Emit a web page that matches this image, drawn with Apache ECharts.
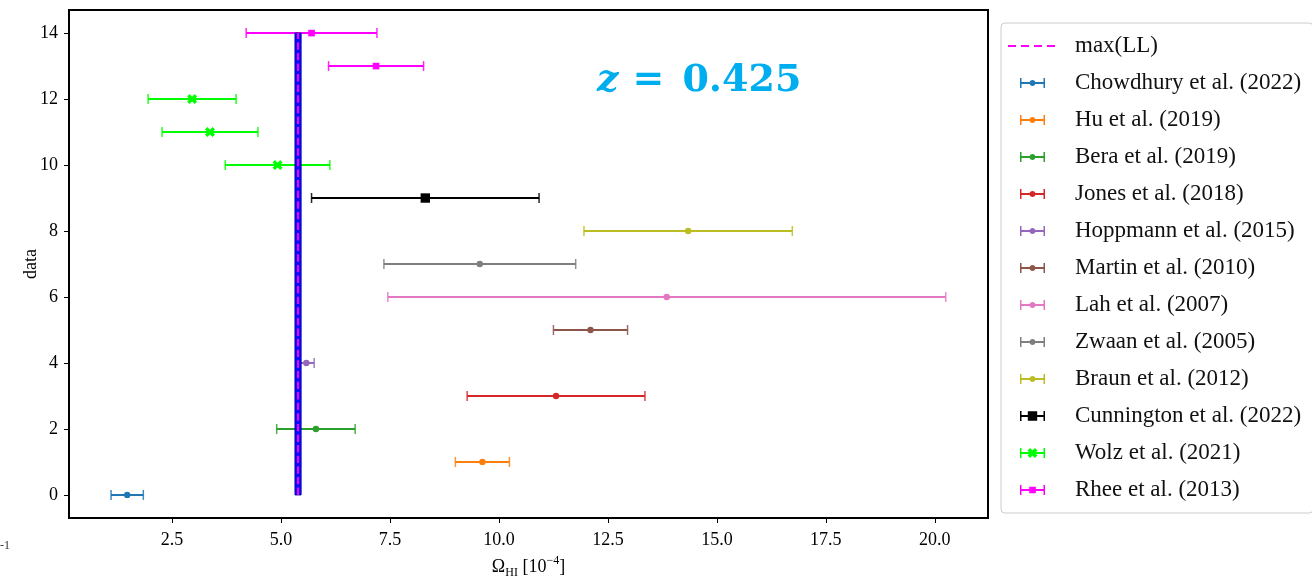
<!DOCTYPE html>
<html><head><meta charset="utf-8">
<script src="https://cdn.jsdelivr.net/npm/echarts@6/dist/echarts.min.js"></script>
<style>html,body{margin:0;padding:0;background:#fff}#c{width:1312px;height:576px}</style>
</head><body><div id="c"></div>
<script>
// ---------------- data ----------------
const studies = ['Chowdhury et al. (2022)','Hu et al. (2019)','Bera et al. (2019)','Jones et al. (2018)',
  'Hoppmann et al. (2015)','Martin et al. (2010)','Lah et al. (2007)','Zwaan et al. (2005)',
  'Braun et al. (2012)','Cunnington et al. (2022)','Wolz et al. (2021)','Rhee et al. (2013)'];
const studyColors = ['#1f77b4','#ff7f0e','#2ca02c','#d62728','#9467bd','#8c564b','#e377c2','#7f7f7f',
  '#bcbd22','#000000','#00ff00','#ff00ff'];
const studyMarkers = ['circle','circle','circle','circle','circle','circle','circle','circle',
  'circle','bigSquare','X','square'];
const yValues = [[0],[1],[2],[3],[4],[5],[6],[7],[8],[9],[10,11,12],[13,14]];
const centerValues = [[1.47],[9.62],[5.80],[11.31],[5.58],[12.10],[13.85],[9.56],[14.34],[8.31],[4.92,3.37,2.96],[7.18,5.70]];
const errorValues = [[0.37],[0.62],[0.90],[2.04],[0.18],[0.85],[6.40],[2.20],[2.39],[2.61],[1.20,1.10,1.01],[1.09,1.50]];
const maxLL = 5.39;
const bandX = [5.32, 5.46];
const bandY = [0, 14];
const xTicks = [2.5, 5, 7.5, 10, 12.5, 15, 17.5, 20];
const yTicks = [0, 2, 4, 6, 8, 10, 12, 14];
const xRange = [0.135, 21.22];
const yRange = [-0.7, 14.7];

// ---------------- drawing ----------------
const chart = echarts.init(document.getElementById('c'), null, {renderer: 'canvas'});
const serif = 'Liberation Serif';

function markerShape(kind, cx, cy, color) {
  if (kind === 'bigSquare') return {type:'rect', shape:{x:cx-4.7,y:cy-4.7,width:9.4,height:9.4}, style:{fill:color}};
  if (kind === 'square') return {type:'rect', shape:{x:cx-3.3,y:cy-3.3,width:6.6,height:6.6}, style:{fill:color}};
  if (kind === 'X') {
    const s = 5, t = 2.4;
    const pts = [[-s,-s+t],[-s+t,-s],[0,-t],[s-t,-s],[s,-s+t],[t,0],[s,s-t],[s-t,s],[0,t],[-s+t,s],[-s,s-t],[-t,0]]
      .map(p => [cx + p[0], cy + p[1]]);
    return {type:'polygon', shape:{points:pts}, style:{fill:color}};
  }
  return {type:'circle', shape:{cx:cx, cy:cy, r:3.2}, style:{fill:color}};
}

function errRender(kind, color) {
  return function (params, api) {
    const x = api.value(0), y = api.value(1), e = api.value(2);
    const p0 = api.coord([x - e, y]), p1 = api.coord([x + e, y]), pc = api.coord([x, y]);
    return {type:'group', children:[
      {type:'line', shape:{x1:p0[0],y1:p0[1],x2:p1[0],y2:p1[1]}, style:{stroke:color,lineWidth:2}},
      {type:'line', shape:{x1:p0[0],y1:p0[1]-5,x2:p0[0],y2:p0[1]+5}, style:{stroke:color,lineWidth:1.5,opacity:0.85}},
      {type:'line', shape:{x1:p1[0],y1:p1[1]-5,x2:p1[0],y2:p1[1]+5}, style:{stroke:color,lineWidth:1.5,opacity:0.85}},
      markerShape(kind, pc[0], pc[1], color)
    ]};
  };
}

// legend icons (62 x 12 box)
const box = 'M0,0 M62,12 ';
const barIcon = 'M12,1 L13.5,1 L13.5,11 L12,11 Z M35.5,1 L37,1 L37,11 L35.5,11 Z M12,5 L37,5 L37,7 L12,7 Z ';
const dotIcon = 'M21.5,6 C21.5,2 27.5,2 27.5,6 C27.5,10 21.5,10 21.5,6 Z';
const sqIcon = 'M21.2,2.7 L27.8,2.7 L27.8,9.3 L21.2,9.3 Z';
const bigSqIcon = 'M19.8,1.3 L29.2,1.3 L29.2,10.7 L19.8,10.7 Z';
const xIcon = 'M19.5,3.4 L22.1,1 L24.5,3.6 L26.9,1 L29.5,3.4 L26.9,6 L29.5,8.6 L26.9,11 L24.5,8.4 L22.1,11 L19.5,8.6 L22.1,6 Z';
const dashIcon = 'path://' + box + 'M0,5 L8,5 L8,7 L0,7 Z M13,5 L21,5 L21,7 L13,7 Z M26,5 L34,5 L34,7 L26,7 Z M39,5 L47,5 L47,7 L39,7 Z';
function iconFor(kind) {
  const m = kind === 'bigSquare' ? bigSqIcon : kind === 'square' ? sqIcon : kind === 'X' ? xIcon : dotIcon;
  return 'path://' + box + barIcon + m;
}

const series = [];
series.push({
  type:'custom', name:'band', z:3, silent:true,
  data:[[bandX[0], bandX[1], bandY[0], bandY[1]]],
  renderItem: function (params, api) {
    const a = api.coord([api.value(0), api.value(3)]);
    const b = api.coord([api.value(1), api.value(2)]);
    return {type:'rect', shape:{x:a[0], y:a[1], width:b[0]-a[0], height:b[1]-a[1]},
      style:{fill:'#0b0bff', stroke:'#0000a8', lineWidth:1}};
  }
});
series.push({
  type:'custom', name:'max(LL)', z:4, silent:true,
  itemStyle:{color:'#ff00ff'},
  data:[[maxLL, bandY[0], bandY[1]]],
  renderItem: function (params, api) {
    const a = api.coord([api.value(0), api.value(1)]);
    const b = api.coord([api.value(0), api.value(2)]);
    return {type:'line', shape:{x1:a[0],y1:a[1],x2:b[0],y2:b[1]},
      style:{stroke:'#ff00ff', lineWidth:2, lineDash:[7.4,3.2]}};
  }
});
studies.forEach(function (name, i) {
  series.push({
    type:'custom', name:name, z:2, silent:true,
    itemStyle:{color:studyColors[i]},
    data: yValues[i].map(function (y, j) { return [centerValues[i][j], y, errorValues[i][j]]; }),
    renderItem: errRender(studyMarkers[i], studyColors[i])
  });
});

const legendData = [{name:'max(LL)', icon:dashIcon}].concat(
  studies.map(function (n, i) { return {name:n, icon:iconFor(studyMarkers[i])}; }));

chart.setOption({
  animation:false,
  backgroundColor:'#ffffff',
  grid:{left:69, right:324, top:10, bottom:58, show:true, borderColor:'#000', borderWidth:2,
    backgroundColor:'transparent', outerBoundsMode:'none', containLabel:false},
  xAxis:{
    type:'value', min:xRange[0], max:xRange[1],
    splitLine:{show:false},
    axisLine:{show:true, onZero:false, lineStyle:{color:'#000', width:2}},
    axisTick:{show:true, customValues:xTicks, length:5, lineStyle:{color:'#000', width:1}},
    axisLabel:{customValues:xTicks, formatter:function (v) { return v.toFixed(1); },
      fontFamily:serif, fontSize:18, color:'#000', margin:13},
    name:'{a|Ω}{s|HI}{a| [10}{p|−4}{a|]}', nameLocation:'middle', nameGap:37, nameMoveOverlap:false,
    nameTextStyle:{fontFamily:serif, fontSize:18, color:'#000',
      rich:{a:{fontFamily:serif, fontSize:18, lineHeight:24, color:'#000'},
            s:{fontFamily:serif, fontSize:12, lineHeight:14, verticalAlign:'bottom', color:'#000'},
            p:{fontFamily:serif, fontSize:12, lineHeight:14, verticalAlign:'top', color:'#000'}}}
  },
  yAxis:{
    type:'value', min:yRange[0], max:yRange[1],
    splitLine:{show:false},
    axisLine:{show:true, onZero:false, lineStyle:{color:'#000', width:2}},
    axisTick:{show:true, customValues:yTicks, length:5, lineStyle:{color:'#000', width:1}},
    axisLabel:{customValues:yTicks, fontFamily:serif, fontSize:18, color:'#000', margin:11},
    name:'data', nameLocation:'middle', nameRotate:90, nameGap:29, nameMoveOverlap:false,
    nameTextStyle:{fontFamily:serif, fontSize:18, color:'#000'}
  },
  legend:{
    left:1001, top:23, orient:'vertical', selectedMode:false,
    padding:[11, 12, 11, 7],
    itemWidth:62, itemHeight:12, itemGap:13,
    backgroundColor:'#fff', borderColor:'#cccccc', borderWidth:1, borderRadius:4,
    itemStyle:{borderWidth:0},
    textStyle:{fontFamily:serif, fontSize:23, lineHeight:24, color:'#111'},
    data:legendData
  },
  graphic:[
    {type:'text', left:597, top:62, z:10, style:{
      text:'{i|z}{e|=}{n|0.425}',
      rich:{i:{fontFamily:'DejaVu Serif', fontStyle:'italic', fontWeight:'bold', fontSize:38, fill:'#00aeef'},
            e:{fontFamily:'DejaVu Serif', fontWeight:'bold', fontSize:38, fill:'#00aeef', padding:[0,18,0,14]},
            n:{fontFamily:'DejaVu Serif', fontWeight:'bold', fontSize:38, fill:'#00aeef'}}}},
    {type:'text', left:0, top:540, style:{text:'-1', fontFamily:serif, fontSize:12, fill:'#333'}}
  ],
  series:series
});
</script>
</body></html>
